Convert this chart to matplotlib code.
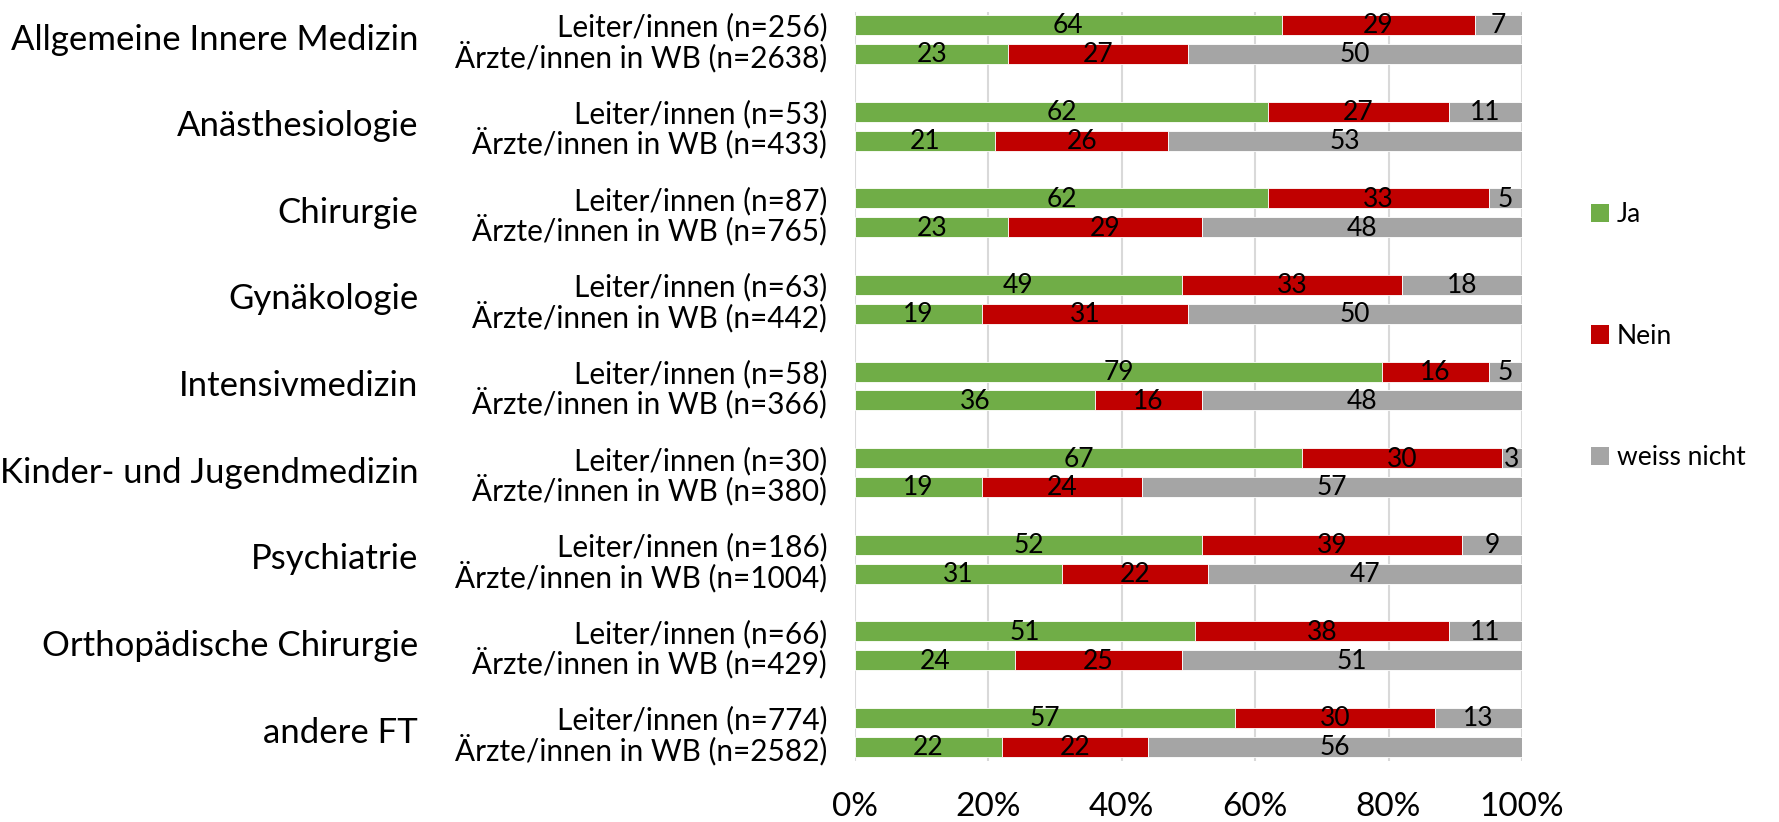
import matplotlib
matplotlib.use("Agg")
import matplotlib.pyplot as plt
import matplotlib.transforms as mtransforms
from matplotlib.patches import Patch
import numpy as np

plt.rcParams['font.family'] = ['Lato', 'DejaVu Sans']

# Data
categories = ["Allgemeine Innere Medizin", "Anästhesiologie", "Chirurgie", "Gynäkologie",
              "Intensivmedizin", "Kinder- und Jugendmedizin", "Psychiatrie",
              "Orthopädische Chirurgie", "andere FT"]
n_leiter = [256, 53, 87, 63, 58, 30, 186, 66, 774]
n_aerzte = [2638, 433, 765, 442, 366, 380, 1004, 429, 2582]

leiter_ja = [64, 62, 62, 49, 79, 67, 52, 51, 57]
leiter_nein = [29, 27, 33, 33, 16, 30, 39, 38, 30]
leiter_wn = [7, 11, 5, 18, 5, 3, 9, 11, 13]

aerzte_ja = [23, 21, 23, 19, 36, 19, 31, 24, 22]
aerzte_nein = [27, 26, 29, 31, 16, 24, 22, 25, 22]
aerzte_wn = [50, 53, 48, 50, 48, 57, 47, 51, 56]

series_names = ["Ja", "Nein", "weiss nicht"]
colors = ["#70AD47", "#C00000", "#A5A5A5"]

fig = plt.figure(figsize=(17.79, 8.22), dpi=100)
ax = fig.add_axes([0.4806, 0.0742, 0.3749, 0.9112])

pos = np.arange(len(categories))
off = 0.167
h = 0.231

groups = [
    (pos - off, [leiter_ja, leiter_nein, leiter_wn]),
    (pos + off, [aerzte_ja, aerzte_nein, aerzte_wn]),
]

for y, vals in groups:
    left = np.zeros(len(categories))
    for v, c in zip(vals, colors):
        v = np.array(v, dtype=float)
        ax.barh(y, v, left=left, height=h, color=c, edgecolor="white", linewidth=0.6, zorder=3)
        for yi, li, vi in zip(y, left, v):
            ax.text(li + vi / 2, yi + 0.01, f"{int(vi)}", ha="center", va="center",
                    fontsize=19, color="black", zorder=4)
        left += v

ax.set_xlim(0, 100)
ax.set_ylim(8.329, -0.318)
ax.set_xticks(np.arange(0, 101, 20))
ax.set_xticklabels([f"{t}%" for t in range(0, 101, 20)], fontsize=24)
ax.tick_params(axis="x", length=0, pad=22)
ax.grid(axis="x", color="#D9D9D9", linewidth=1.5, zorder=0)
for s in ax.spines.values():
    s.set_visible(False)

ticks = np.concatenate([pos - off, pos + off])
labels = [f"Leiter/innen (n={n})" for n in n_leiter] + \
         [f"Ärzte/innen in WB (n={n})" for n in n_aerzte]
ax.set_yticks(ticks)
ax.set_yticklabels(labels, fontsize=21.4)
ax.tick_params(axis="y", length=0, pad=20)

trans = mtransforms.blended_transform_factory(ax.transAxes, ax.transData)
for p, cat in zip(pos, categories):
    ax.text(-0.655, p, cat, transform=trans, ha="right", va="center", fontsize=25)

handles = [Patch(facecolor=c, label=n) for c, n in zip(colors, series_names)]
fig.legend(handles=handles, loc="center left", bbox_to_anchor=(0.8943, 0.591),
           frameon=False, fontsize=19, labelspacing=3.65, handlelength=0.68,
           handleheight=0.68, handletextpad=0.3, borderpad=0, borderaxespad=0)

fig.savefig("out.png", dpi=100)
